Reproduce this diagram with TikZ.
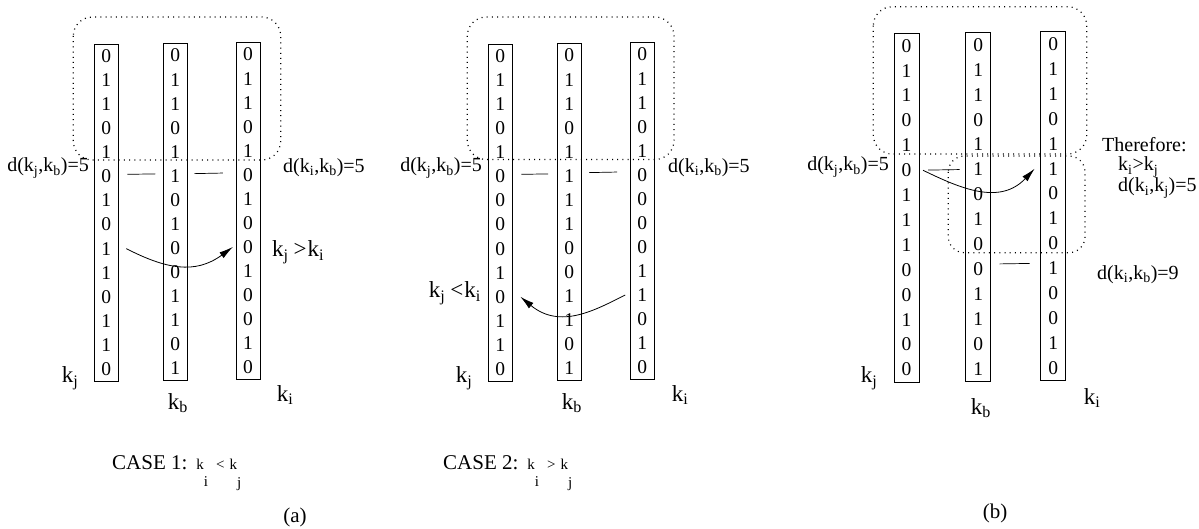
\documentclass[tikz,border=0pt]{standalone}
\usepackage{fontspec}
\setmainfont{Liberation Serif}
\usetikzlibrary{arrows.meta,fit}

\newcommand{\fs}[1]{\fontsize{#1}{#1}\selectfont}
\newcommand{\sbs}[1]{\textsubscript{#1}}

\tikzset{
  digit/.style 2 args={inner sep=0pt, outer sep=0pt, minimum width=#1, minimum height=#2, font=\fs{19.5}},
  colbox/.style={draw, inner sep=0pt, outer sep=0pt, line width=0.8pt},
  grp/.style={line width=1.2pt, dash pattern=on 1pt off 4.2pt, rounded corners=19pt},
  shortline/.style={line width=0.7pt},
  arr/.style={line width=0.8pt, -{Latex[length=14pt,width=7pt]}},
  dlab/.style={inner sep=0pt, font=\fs{20}},
  rlab/.style={inner sep=0pt, font=\fs{23}},
  klab/.style={inner sep=0pt, font=\fs{23}},
  caplab/.style={inner sep=0pt, font=\fs{21}},
}

\newcommand{\bitcol}[6]{%
  \foreach \d [count=\r] in {#6} {
    \node[digit={#4pt}{#5pt}] (#1-\r) at (#2, {#3+(\r-0.5)*#5}) {\d};
  }
  \node[colbox, fit=(#1-1)(#1-14)] (#1) {};
}
\newcommand{\casetext}[2]{CASE #1:\hspace{9pt}{\fs{15}k\raisebox{-17pt}{i}\hspace{8pt}#2\hspace{5pt}k\raisebox{-18pt}{j}}}

\begin{document}
\begin{tikzpicture}[x=1pt,y=-1pt]
\useasboundingbox (0,0) rectangle (1199,529);

% ---------- CASE 1 ----------
\bitcol{a1j}{106.3}{44.2}{24}{24.05}{0,1,1,0,1,0,1,0,1,1,0,1,1,0}
\bitcol{a1b}{175.3}{43.5}{24}{24.05}{0,1,1,0,1,1,0,1,0,0,1,1,0,1}
\bitcol{a1i}{247.9}{42.5}{24}{24.05}{0,1,1,0,1,0,1,0,0,1,0,0,1,0}
\draw[grp] (73.3,17) rectangle (280.7,160);
\draw[shortline, shorten <=9pt, shorten >=8pt] ([yshift=2pt]a1j-6.east) -- ([yshift=2pt]a1b-6.west);
\draw[shortline, shorten <=7pt, shorten >=13pt] ([yshift=2pt]a1b-6.east) -- ([yshift=2pt]a1i-6.west);
\draw[arr] ([xshift=8pt]a1j-9.east) .. controls +(39,20) and +(-38,28) .. ([xshift=-3pt]a1i-9.west);
\node[dlab, anchor=east] (a1d1) at (89,168) {d(k\sbs{j},k\sbs{b})=5};
\node[dlab, anchor=west] (a1d2) at (283,168) {d(k\sbs{i},k\sbs{b})=5};
\node[rlab, anchor=west] (a1rel) at (272,252) {k\sbs{j}\hspace{5pt}>\hspace{1pt}k\sbs{i}};
\node[klab] (a1kj) at (70,378) {k\sbs{j}};
\node[klab] (a1kb) at (178,403) {k\sbs{b}};
\node[klab] (a1ki) at (285,395) {k\sbs{i}};
\node[caplab, anchor=base west] (case1) at (112,469) {\casetext{1}{<}};

% ---------- CASE 2 ----------
\bitcol{a2j}{500.3}{44.2}{24}{24.05}{0,1,1,0,1,0,0,0,0,1,0,1,1,0}
\bitcol{a2b}{569.2}{43.5}{24}{24.05}{0,1,1,0,1,1,1,1,0,0,1,1,0,1}
\bitcol{a2i}{642.2}{42.5}{24}{24.05}{0,1,1,0,1,0,0,0,0,1,1,0,1,0}
\draw[grp] (467.3,17) rectangle (674,159.5);
\draw[shortline, shorten <=9pt, shorten >=9pt] ([yshift=2pt]a2j-6.east) -- ([yshift=2pt]a2b-6.west);
\draw[shortline, shorten <=8pt, shorten >=13pt] ([yshift=3pt]a2b-6.east) -- ([yshift=3pt]a2i-6.west);
\draw[arr] ([xshift=-5pt]a2i-11.west) .. controls +(-30,15) and +(40,33) .. ([xshift=8pt]a2j-11.east);
\node[dlab, anchor=east] (a2d1) at (482,168) {d(k\sbs{j},k\sbs{b})=5};
\node[dlab, anchor=west] (a2d2) at (668,168) {d(k\sbs{i},k\sbs{b})=5};
\node[rlab, anchor=east] (a2rel) at (481,293) {k\sbs{j}\hspace{5pt}<\hspace{1pt}k\sbs{i}};
\node[klab] (a2kj) at (464,378) {k\sbs{j}};
\node[klab] (a2kb) at (572,403) {k\sbs{b}};
\node[klab] (a2ki) at (680,395) {k\sbs{i}};
\node[caplab, anchor=base west] (case2) at (443,469) {\casetext{2}{>}};

\node[caplab] (capa) at (295,517) {(a)};

% ---------- (b) ----------
\bitcol{bj}{906.5}{33.3}{25}{24.9}{0,1,1,0,1,0,1,1,1,0,0,1,0,0}
\bitcol{bb}{978.2}{32.5}{25}{24.9}{0,1,1,0,1,1,0,1,0,0,1,1,0,1}
\bitcol{bi}{1053.2}{31.7}{25}{24.9}{0,1,1,0,1,1,0,1,0,1,0,0,1,0}
\draw[grp] (873.3,6.7) rectangle (1086.7,154);
\draw[grp, rounded corners=16pt] (948.3,156) rectangle (1085,252.7);
\draw[shortline, shorten <=9pt, shorten >=6pt] (bj-6.east) -- (bb-6.west);
\draw[shortline, shorten <=9pt, shorten >=11pt] ([yshift=5pt]bb-10.east) -- ([yshift=5pt]bi-10.west);
\draw[arr] ([xshift=4pt]bj-6.east) .. controls +(37,18) and +(-35,37) .. ([xshift=-6pt]bi-6.west);
\node[dlab, anchor=east] (bd1) at (889,167) {d(k\sbs{j},k\sbs{b})=5};
\node[dlab, anchor=west] (bthf) at (1102,145) {Therefore:};
\node[dlab, anchor=west] (brel) at (1118,167) {k\sbs{i}>k\sbs{j}};
\node[dlab, anchor=west] (bd2) at (1118,188) {d(k\sbs{i},k\sbs{j})=5};
\node[dlab, anchor=west] (bd3) at (1097,275) {d(k\sbs{i},k\sbs{b})=9};
\node[klab] (bkj) at (869,378) {k\sbs{j}};
\node[klab] (bkb) at (981,408) {k\sbs{b}};
\node[klab] (bki) at (1092,398) {k\sbs{i}};

\node[caplab] (capb) at (995,513) {(b)};
\end{tikzpicture}
\end{document}
